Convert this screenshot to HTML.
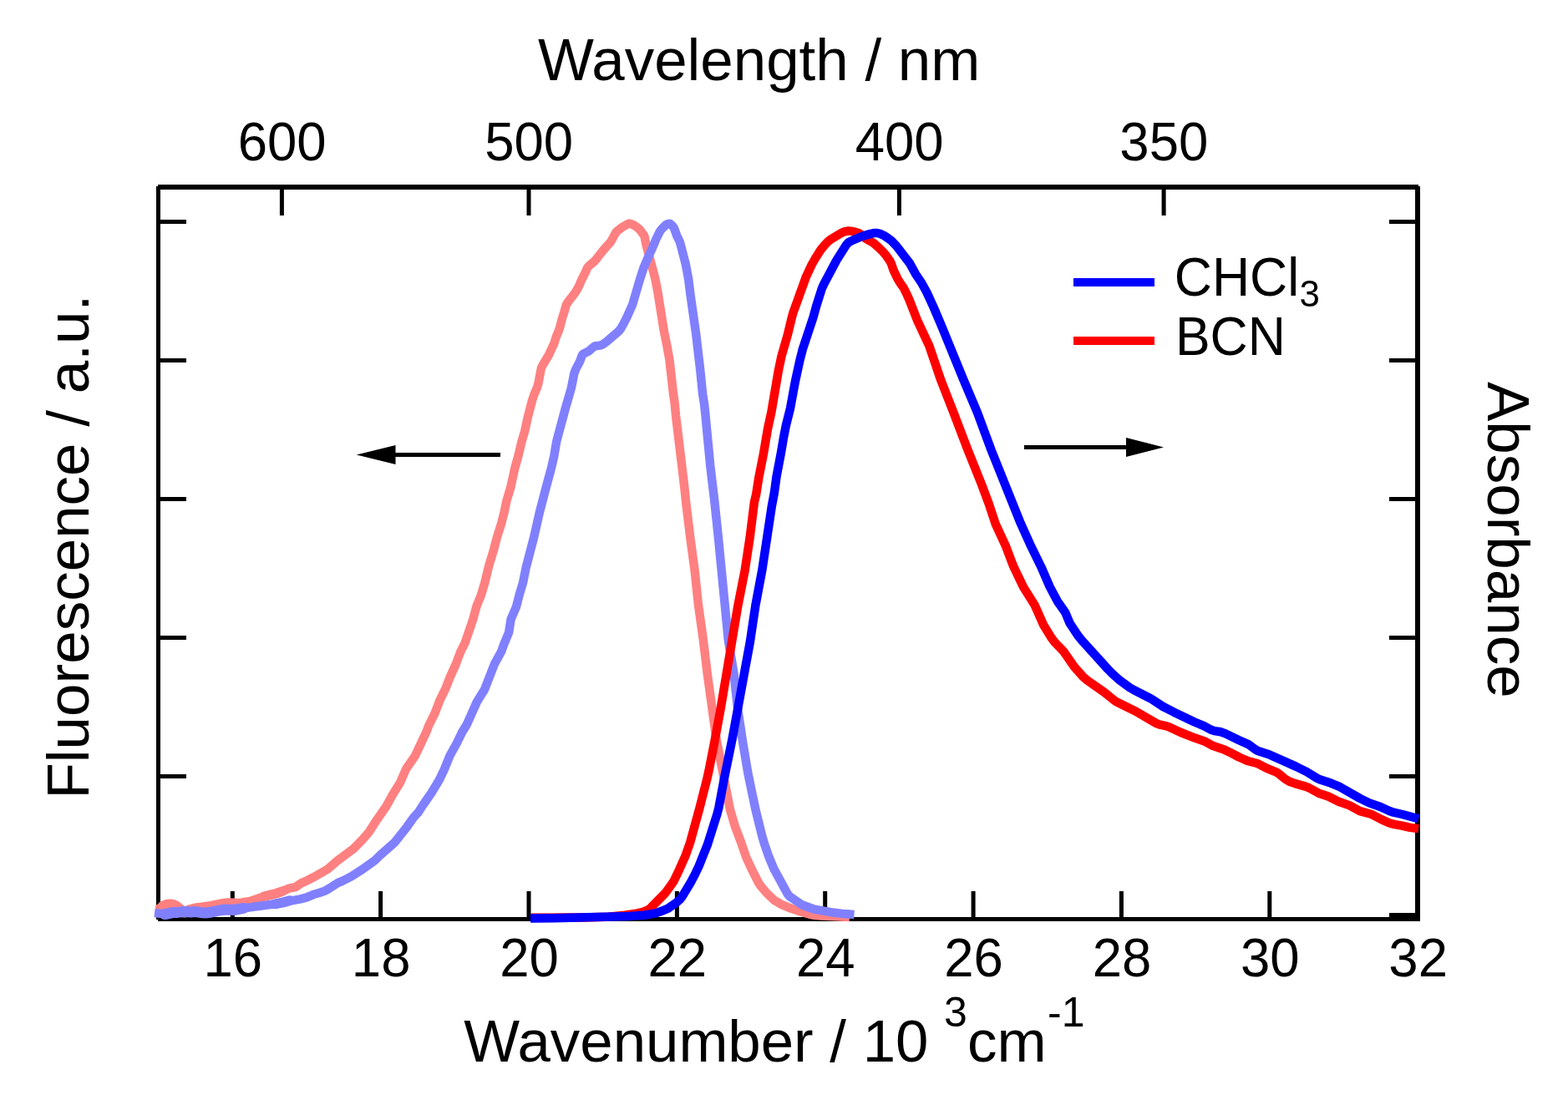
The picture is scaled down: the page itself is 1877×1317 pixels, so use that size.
<!DOCTYPE html>
<html><head><meta charset="utf-8"><title>Spectra</title><style>html,body{margin:0;padding:0;background:#fff;width:1877px;height:1317px;overflow:hidden}svg{display:block}</style></head><body>
<svg width="1877" height="1317" viewBox="0 0 1877 1317">
<rect width="1877" height="1317" fill="#fff"/>
<g fill="#000">
<rect x="189" y="221" width="1509" height="6"/>
<rect x="189" y="1098" width="1511" height="5"/>
<rect x="187" y="223" width="5" height="878"/>
<rect x="1694" y="223" width="6" height="880"/>
<rect x="192" y="263.0" width="31" height="5"/>
<rect x="1663" y="263.0" width="31" height="5"/>
<rect x="192" y="429.0" width="31" height="5"/>
<rect x="1663" y="429.0" width="31" height="5"/>
<rect x="192" y="595.0" width="31" height="5"/>
<rect x="1663" y="595.0" width="31" height="5"/>
<rect x="192" y="761.0" width="31" height="5"/>
<rect x="1663" y="761.0" width="31" height="5"/>
<rect x="192" y="927.0" width="31" height="5"/>
<rect x="1663" y="927.0" width="31" height="5"/>
<rect x="192" y="1093.0" width="31" height="5"/>
<rect x="1663" y="1093.0" width="31" height="5"/>
<rect x="275.8" y="1067" width="5" height="31"/>
<rect x="453.1" y="1067" width="5" height="31"/>
<rect x="630.5" y="1067" width="5" height="31"/>
<rect x="807.9" y="1067" width="5" height="31"/>
<rect x="985.2" y="1067" width="5" height="31"/>
<rect x="1162.6" y="1067" width="5" height="31"/>
<rect x="1339.9" y="1067" width="5" height="31"/>
<rect x="1517.3" y="1067" width="5" height="31"/>
<rect x="334.9" y="227" width="5" height="31"/>
<rect x="630.5" y="227" width="5" height="31"/>
<rect x="1073.9" y="227" width="5" height="31"/>
<rect x="1390.6" y="227" width="5" height="31"/>
</g>
<polyline points="186.0,1088.5 188.0,1088.6 189.8,1088.1 194.9,1085.1 200.5,1082.9 204.4,1082.7 208.2,1083.6 211.8,1085.4 219.3,1091.8 220.8,1092.3 226.0,1089.8 233.7,1087.7 249.5,1085.8 267.1,1082.1 273.1,1081.4 287.0,1082.0 289.0,1081.7 294.9,1080.5 315.7,1073.4 331.2,1069.5 338.7,1066.8 346.0,1063.7 353.8,1062.1 360.2,1057.6 367.5,1054.3 376.4,1049.8 392.0,1040.7 404.2,1030.3 423.4,1016.0 433.2,1006.0 439.8,998.6 442.2,995.4 449.8,983.6 462.3,965.5 470.0,951.5 479.4,936.2 484.9,923.3 486.7,919.7 496.9,905.0 510.5,876.0 513.3,868.5 520.5,854.2 526.1,839.3 533.2,824.9 539.0,810.0 545.6,795.5 551.2,780.5 556.6,769.8 566.3,741.4 570.4,726.0 575.7,713.0 576.9,709.2 580.3,697.7 585.0,678.3 590.8,659.1 594.8,643.7 600.2,626.5 603.7,612.9 606.5,599.2 611.2,583.9 616.3,560.5 620.6,545.1 624.3,529.5 628.2,516.1 631.6,500.4 637.1,479.1 639.7,471.6 642.8,464.2 644.1,460.4 647.9,440.8 649.6,437.3 656.8,425.2 663.5,410.7 665.8,403.1 668.9,395.7 670.2,391.9 673.2,380.3 675.7,372.7 677.8,365.0 679.8,361.7 688.3,350.6 690.5,347.2 693.3,341.9 696.4,334.5 700.1,327.5 703.4,320.2 704.6,318.8 712.2,312.2 723.4,298.1 730.1,290.8 731.3,289.2 737.0,278.7 738.2,277.1 744.5,272.3 751.4,268.2 753.1,267.6 754.9,267.9 758.6,269.5 762.0,271.6 766.4,275.5 771.0,282.0 771.7,283.8 773.2,291.7 775.7,301.4 784.0,332.3 787.1,347.9 795.0,397.3 798.6,415.0 801.4,430.7 806.1,472.4 807.6,482.3 809.1,498.3 818.9,579.7 821.4,603.5 826.2,643.2 831.6,682.9 836.0,724.7 841.6,764.3 846.9,807.9 857.6,885.2 874.0,969.6 879.7,988.8 887.4,1009.4 893.2,1026.4 900.8,1042.7 908.1,1057.0 910.3,1060.3 918.0,1069.5 926.7,1077.8 935.2,1082.8 944.4,1086.7 955.8,1090.6 971.1,1095.1 975.1,1095.8 983.0,1096.5 1017.0,1098.0" fill="none" stroke="#ff8080" stroke-width="10.5" stroke-linejoin="round" stroke-linecap="butt"/>
<polyline points="194.9,1085.1 200.5,1082.9 204.4,1082.7 208.2,1083.6 211.8,1085.4 219.3,1091.8 220.8,1092.3 226.0,1089.8 233.7,1087.7 249.5,1085.8 267.1,1082.1 273.1,1081.4 287.0,1082.0 289.0,1081.7 294.9,1080.5" fill="none" stroke="#ff8080" stroke-width="12.5" stroke-linejoin="round" stroke-linecap="round"/>
<polyline points="315.7,1073.4 331.2,1069.5 338.7,1066.8" fill="none" stroke="#ff8080" stroke-width="11.5" stroke-linejoin="round" stroke-linecap="round"/>
<polyline points="185.0,1093.0 196.9,1094.4 198.8,1094.3 206.6,1092.6 212.6,1092.4 220.5,1091.5 228.5,1092.0 234.5,1091.6 242.3,1092.8 246.3,1092.9 250.3,1092.6 262.0,1090.1 268.0,1089.2 271.9,1088.9 279.9,1089.5 291.7,1087.4 329.3,1082.3 339.2,1080.4 346.8,1078.3 352.8,1077.7 358.7,1076.6 366.5,1074.7 375.7,1070.8 381.4,1069.2 389.0,1066.6 394.2,1063.7 404.3,1057.2 409.8,1054.9 420.5,1049.4 434.0,1040.8 448.6,1030.2 455.8,1023.3 472.3,1008.8 487.2,989.9 495.3,978.5 500.7,972.7 506.1,964.2 516.3,949.4 525.7,934.0 531.7,921.4 538.5,904.7 546.3,890.8 553.3,876.4 558.6,867.9 570.8,840.5 580.2,825.2 591.8,795.3 600.4,779.5 603.0,771.9 609.1,757.2 611.6,741.4 617.9,726.7 621.9,711.2 626.0,697.8 629.5,680.2 639.1,643.4 645.7,614.1 653.8,583.1 660.1,559.9 663.2,546.3 666.2,528.5 677.1,487.9 683.8,464.9 687.3,447.2 689.4,441.6 694.1,432.8 696.8,425.4 697.9,423.9 704.9,420.3 710.9,415.1 712.6,414.2 718.4,413.6 720.3,413.0 722.0,412.0 726.8,408.5 740.4,396.7 743.0,393.7 746.0,388.5 750.5,379.6 757.1,364.9 765.5,336.1 770.4,320.9 775.8,308.0 780.9,297.1 785.5,286.0 789.9,277.1 792.3,273.9 796.6,269.7 798.2,268.6 800.0,267.9 801.7,267.7 804.7,270.1 807.0,273.2 810.4,282.6 813.9,289.7 820.9,316.8 824.2,334.5 826.4,352.4 833.2,400.0 838.3,443.7 841.1,471.6 843.0,483.4 844.3,495.4 850.2,557.1 855.4,600.9 859.8,642.7 871.8,766.2 878.4,805.6 883.2,849.4 889.2,889.0 895.5,926.5 904.5,969.6 912.2,1000.7 915.0,1010.3 920.2,1025.4 926.4,1040.2 942.6,1070.1 945.1,1073.1 959.9,1083.3 974.9,1088.7 994.6,1092.2 1008.5,1093.9 1022.5,1094.9" fill="none" stroke="#8080ff" stroke-width="10.5" stroke-linejoin="round" stroke-linecap="butt"/>
<polyline points="196.9,1094.4 198.8,1094.3 206.6,1092.6 212.6,1092.4 220.5,1091.5 228.5,1092.0 234.5,1091.6 242.3,1092.8 246.3,1092.9 250.3,1092.6 262.0,1090.1 268.0,1089.2 271.9,1088.9 279.9,1089.5 291.7,1087.4" fill="none" stroke="#8080ff" stroke-width="13" stroke-linejoin="round" stroke-linecap="round"/>
<polyline points="329.3,1082.3 339.2,1080.4 346.8,1078.3" fill="none" stroke="#8080ff" stroke-width="12" stroke-linejoin="round" stroke-linecap="round"/>
<polyline points="636.0,1098.8 698.0,1098.5 728.1,1097.7 748.0,1095.8 761.8,1093.6 769.6,1091.8 775.1,1089.7 778.4,1087.5 796.6,1069.0 803.6,1059.3 806.9,1054.3 812.9,1041.7 820.3,1025.2 826.3,1008.2 837.4,967.7 846.3,932.8 848.5,923.0 855.4,887.7 862.7,848.3 883.2,725.9 891.7,682.7 897.7,643.1 902.9,601.4 905.2,591.7 908.3,571.9 914.1,542.5 919.1,512.9 923.4,493.4 931.8,444.0 935.5,426.4 942.7,401.4 947.4,381.9 949.5,374.2 965.1,330.9 971.9,316.5 975.9,309.5 982.3,299.4 987.4,293.2 991.5,288.9 994.6,286.5 1006.6,279.3 1010.2,277.6 1014.0,276.6 1015.9,276.4 1019.8,276.9 1027.4,278.9 1030.8,280.8 1036.8,285.9 1045.4,290.8 1051.4,296.0 1057.1,301.6 1061.0,306.2 1065.5,312.7 1067.2,316.3 1069.7,323.8 1074.0,332.8 1077.0,338.0 1081.6,344.5 1085.2,351.6 1088.5,359.0 1097.9,383.2 1112.3,414.0 1126.5,455.7 1142.5,496.7 1158.2,537.9 1175.3,580.6 1183.7,603.1 1191.9,627.8 1203.7,653.2 1212.2,675.6 1214.6,681.1 1225.0,702.8 1238.8,724.8 1249.3,748.6 1258.8,763.9 1262.3,768.7 1273.4,780.2 1285.9,798.3 1296.5,810.3 1301.1,814.2 1322.3,829.1 1333.2,838.0 1336.4,840.3 1359.7,851.8 1383.9,865.9 1387.5,867.3 1395.3,869.1 1399.1,870.3 1413.6,877.0 1430.4,883.6 1441.7,887.4 1452.2,893.1 1465.4,897.5 1472.6,900.9 1483.2,906.5 1490.5,909.8 1494.3,911.2 1505.8,914.3 1516.4,919.8 1527.5,924.3 1530.8,926.4 1538.5,932.7 1543.6,935.7 1551.1,938.4 1562.7,941.6 1566.4,943.0 1578.6,949.7 1590.0,953.5 1602.5,959.7 1615.6,964.4 1627.9,971.1 1641.2,974.7 1653.7,981.1 1662.8,985.2 1668.5,986.9 1678.4,988.6 1688.1,990.9 1698.0,992.1" fill="none" stroke="#ff0000" stroke-width="10.5" stroke-linejoin="round" stroke-linecap="butt"/>
<polyline points="635.0,1099.5 663.0,1099.2 753.1,1096.9 771.0,1095.7 784.8,1093.4 794.2,1090.0 799.7,1087.6 809.5,1080.8 814.0,1076.9 816.4,1073.8 826.7,1056.7 832.3,1046.1 836.6,1037.0 847.0,1011.0 858.4,974.7 860.4,967.0 867.4,929.6 876.6,884.5 897.9,768.3 904.4,724.8 912.5,681.5 923.8,606.3 926.8,590.6 929.5,570.7 935.1,541.3 938.1,523.5 940.8,509.8 946.1,488.4 951.9,456.9 957.4,431.5 960.9,417.9 973.5,379.9 977.2,366.4 983.8,345.5 986.3,340.0 1001.3,311.8 1013.0,293.2 1015.5,290.4 1018.9,288.5 1031.7,283.0 1041.3,280.1 1047.1,278.9 1049.0,278.9 1052.9,279.6 1056.5,281.2 1060.0,283.1 1066.5,287.7 1073.4,294.9 1089.2,315.5 1095.9,327.8 1102.6,337.8 1109.4,350.0 1117.7,368.1 1127.1,390.2 1152.8,453.2 1169.9,493.8 1186.6,538.9 1221.6,626.2 1233.1,651.7 1246.3,678.7 1256.7,702.6 1266.1,720.2 1275.2,733.3 1280.6,746.1 1290.5,761.1 1295.5,767.3 1326.4,801.4 1332.1,807.1 1341.1,815.1 1352.4,823.2 1357.6,826.2 1377.2,836.2 1392.3,846.0 1404.8,852.4 1430.0,864.5 1441.1,869.2 1449.9,873.8 1453.7,875.1 1461.5,876.3 1467.0,878.4 1483.2,886.3 1494.2,891.1 1502.3,896.9 1505.6,898.9 1518.9,903.2 1551.7,917.9 1564.3,924.1 1576.2,931.5 1579.8,933.2 1593.0,937.6 1604.1,942.2 1628.4,956.1 1639.2,961.4 1652.4,966.0 1663.3,971.0 1667.0,972.3 1678.7,975.0 1698.0,980.3" fill="none" stroke="#0000ff" stroke-width="10.5" stroke-linejoin="round" stroke-linecap="butt"/>
<rect x="473" y="542" width="126" height="5" fill="#000"/>
<polygon points="426.7,544.5 473.5,533 473.5,556" fill="#000"/>
<rect x="1226" y="533" width="123" height="5" fill="#000"/>
<polygon points="1393,535.4 1348,524 1348,547" fill="#000"/>
<rect x="1285" y="333" width="97" height="10" fill="#0000ff"/>
<rect x="1285" y="403" width="97" height="10" fill="#ff0000"/>
<g font-family='"Liberation Sans", sans-serif' fill="#000">
<text transform="translate(644.00,95.60)" font-size="70.9">Wavelength / nm</text>
<text transform="translate(337.60,191.70) scale(1,1.02)" font-size="63.5" text-anchor="middle">600</text>
<text transform="translate(633.20,191.70) scale(1,1.02)" font-size="63.5" text-anchor="middle">500</text>
<text transform="translate(1076.60,191.70) scale(1,1.02)" font-size="63.5" text-anchor="middle">400</text>
<text transform="translate(1393.31,191.70) scale(1,1.02)" font-size="63.5" text-anchor="middle">350</text>
<text transform="translate(278.78,1169.20) scale(1,1.02)" font-size="63.5" text-anchor="middle">16</text>
<text transform="translate(456.14,1169.20) scale(1,1.02)" font-size="63.5" text-anchor="middle">18</text>
<text transform="translate(633.50,1169.20) scale(1,1.02)" font-size="63.5" text-anchor="middle">20</text>
<text transform="translate(810.86,1169.20) scale(1,1.02)" font-size="63.5" text-anchor="middle">22</text>
<text transform="translate(988.22,1169.20) scale(1,1.02)" font-size="63.5" text-anchor="middle">24</text>
<text transform="translate(1165.58,1169.20) scale(1,1.02)" font-size="63.5" text-anchor="middle">26</text>
<text transform="translate(1342.94,1169.20) scale(1,1.02)" font-size="63.5" text-anchor="middle">28</text>
<text transform="translate(1520.30,1169.20) scale(1,1.02)" font-size="63.5" text-anchor="middle">30</text>
<text transform="translate(1697.66,1169.20) scale(1,1.02)" font-size="63.5" text-anchor="middle">32</text>
<text transform="translate(555.30,1270.80)" font-size="70.8">Wavenumber / 10</text>
<text transform="translate(1130.00,1229.30)" font-size="50">3</text>
<text transform="translate(1158.00,1270.80)" font-size="71">cm</text>
<text transform="translate(1254.00,1228.80)" font-size="50">-1</text>
<text transform="translate(106.00,956.60) rotate(-90)" font-size="71">Fluorescence / a.u.</text>
<text transform="translate(1781.00,456.90) rotate(90)" font-size="71">Absorbance</text>
<text transform="translate(1405.80,354.20) scale(1,1.045)" font-size="62.5">CHCl</text>
<text transform="translate(1555.40,366.50)" font-size="44">3</text>
<text transform="translate(1406.90,425.00) scale(1,1.04)" font-size="62.5">BCN</text>
</g>
</svg>
</body></html>
